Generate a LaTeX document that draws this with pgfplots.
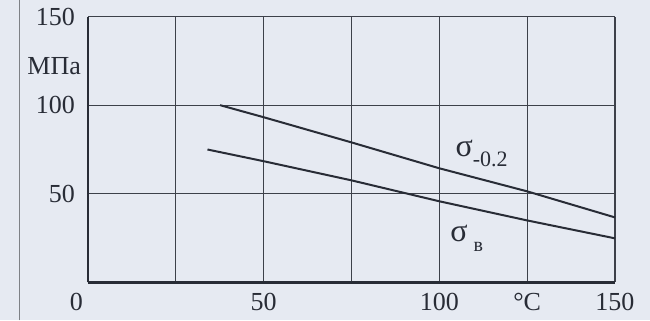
\documentclass[border=0pt]{standalone}
\usepackage{pgfplots}
\pgfplotsset{compat=1.18}
\usepackage{fontspec}
\setmainfont{Liberation Serif}
\definecolor{paper}{RGB}{230,234,242}
\definecolor{ink}{RGB}{40,44,54}
\begin{document}
\begin{tikzpicture}
\fill[paper] (-44pt,-19pt) rectangle (281pt,141pt);
\draw[ink!60, line width=0.5pt] (-34pt,-19pt) -- (-34pt,141pt);
\begin{axis}[
  at={(0,0)}, anchor=origin,
  scale only axis,
  width=263.5pt, height=133pt,
  xmin=0, xmax=150, ymin=0, ymax=150,
  axis lines=left,
  axis line style={ink, line width=1.1pt, -},
  xtick={0,50,100,125,150},
  xticklabels={\llap{0\hspace{2.5pt}},50,100,{°C},150},
  minor xtick={25,75,125},
  ytick={50,100,150},
  major tick length=0pt, minor tick length=0pt,
  grid=both,
  major grid style={ink!90, line width=0.55pt},
  minor grid style={ink!90, line width=0.55pt},
  /pgf/number format/assume math mode=true,
  tick label style={font=\fontsize{13}{15}\selectfont, text=ink},
  xticklabel style={yshift=-2pt},
  yticklabel style={xshift=-3pt},
  clip=false,
]
\addplot[ink, line width=1pt] coordinates {
  (37.6,100) (50,93.2) (75,79) (100,64.4) (125,51.4) (150,36.7)};
\addplot[ink, line width=1pt] coordinates {
  (34,75) (50,68.4) (75,57.6) (100,45.8) (125,35) (150,24.9)};
\node[anchor=east, text=ink, font=\fontsize{13}{15}\selectfont] at (axis cs:0,122) {МПа\hspace{5pt}};
\node[anchor=west, text=ink, font=\fontsize{16}{18}\selectfont, inner sep=0pt] at (axis cs:104.5,73) {σ\raisebox{-5pt}{\fontsize{11}{13}\selectfont -0.2}};
\node[anchor=west, text=ink, font=\fontsize{16}{18}\selectfont, inner sep=0pt] at (axis cs:103,25) {σ\hspace{3pt}\raisebox{-5pt}{\fontsize{10}{12}\selectfont в}};
\end{axis}
\end{tikzpicture}
\end{document}
